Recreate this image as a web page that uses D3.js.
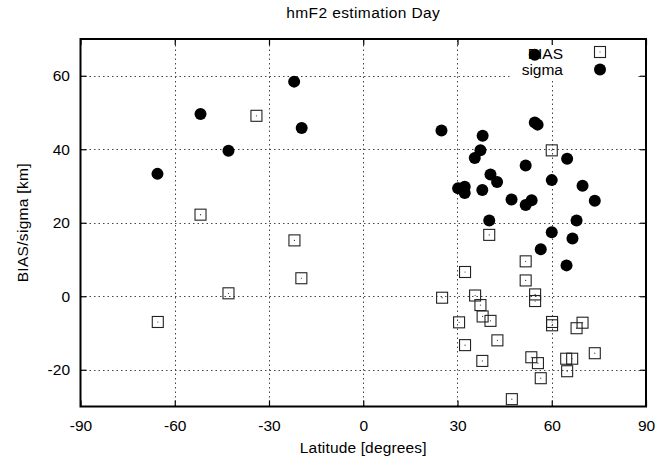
<!DOCTYPE html>
<html>
<head>
<meta charset="utf-8">
<script src="https://cdn.jsdelivr.net/npm/d3@7.9.0/dist/d3.min.js"></script>
<style>
  body { margin: 0; background: #fff; }
  svg text { font-family: "Liberation Sans", Arial, sans-serif; fill: #000; }
</style>
</head>
<body>
<div id="chart"></div>
<script>
// BIAS (open squares)
const biasLat = [-65.4, -51.8, -42.9, -34.0, -21.9, -19.7, 25.1, 30.5, 32.4, 32.4, 35.6, 37.3,
  37.9, 38.0, 40.1, 40.5, 42.7, 47.3, 51.7, 51.7, 53.5, 54.7, 54.7, 55.6, 56.5, 60.0, 60.1,
  60.1, 64.6, 64.9, 66.5, 67.9, 69.8, 73.7];
const biasVal = [-7.0, 22.2, 0.8, 49.1, 15.2, 4.9, -0.4, -7.1, 6.6, -13.3, 0.2, -2.4,
  -17.6, -5.5, 16.7, -6.7, -12.0, -28.0, 9.5, 4.3, -16.6, 0.5, -1.3, -18.2, -22.3, 39.7, -7.0,
  -7.9, -17.0, -20.4, -17.0, -8.7, -7.2, -15.5];

// sigma (filled circles)
const sigmaLat = [-65.5, -51.8, -42.9, -22.0, -19.6, 24.9, 30.2, 32.3, 32.3, 35.5, 37.3, 37.9,
  38.0, 40.1, 40.5, 42.6, 47.2, 51.7, 51.7, 53.6, 54.6, 54.6, 55.5, 56.5, 60.0, 60.0, 64.7,
  64.9, 66.6, 67.9, 69.8, 73.7];
const sigmaVal = [33.3, 49.6, 39.6, 58.4, 45.8, 45.1, 29.4, 29.8, 28.1, 37.6, 39.7, 28.9,
  43.7, 20.6, 33.1, 31.1, 26.3, 35.6, 24.8, 26.1, 65.7, 47.3, 46.7, 12.8, 31.6, 17.4, 8.4,
  37.4, 15.7, 20.6, 30.1, 26.0];

const xTicks = [-90, -60, -30, 0, 30, 60, 90];
const yTicks = [-20, 0, 20, 40, 60];

const width = 668, height = 461;
const margin = { top: 39, right: 22, bottom: 54.5, left: 80.5 };
const fontSize = 15.5;

const svg = d3.select("#chart").append("svg")
  .attr("width", width)
  .attr("height", height);

const x = d3.scaleLinear().domain([-90, 90]).range([margin.left, width - margin.right]);
const y = d3.scaleLinear().domain([-30, 70]).range([height - margin.bottom, margin.top]);

// grid
const grid = svg.append("g")
  .attr("stroke", "#444")
  .attr("stroke-width", 1)
  .attr("stroke-dasharray", "1.5,3");

grid.selectAll(".gx")
  .data(xTicks.slice(1, -1))
  .join("line")
  .attr("x1", d => Math.round(x(d)) + 0.5)
  .attr("x2", d => Math.round(x(d)) + 0.5)
  .attr("y1", y(-30))
  .attr("y2", y(70));

grid.selectAll(".gy")
  .data(yTicks)
  .join("line")
  .attr("y1", d => Math.round(y(d)) + 0.5)
  .attr("y2", d => Math.round(y(d)) + 0.5)
  .attr("x1", x(-90))
  .attr("x2", x(90));

// legend background hides the grid
svg.append("rect")
  .attr("x", 512)
  .attr("y", y(70) + 1)
  .attr("width", 125)
  .attr("height", 41)
  .attr("fill", "#fff");

// axes with inward ticks on all four sides
const tickLen = 6;
const fmt = d => String(d);
svg.append("g")
  .attr("transform", `translate(0,${y(-30)})`)
  .call(d3.axisBottom(x).tickValues(xTicks).tickSize(-tickLen).tickPadding(13.5).tickFormat(fmt))
  .call(g => g.select(".domain").remove())
  .call(g => g.selectAll("text").attr("font-size", fontSize));

svg.append("g")
  .attr("transform", `translate(0,${y(70)})`)
  .call(d3.axisTop(x).tickValues(xTicks).tickSize(-tickLen).tickFormat(""))
  .call(g => g.select(".domain").remove());

svg.append("g")
  .attr("transform", `translate(${x(-90)},0)`)
  .call(d3.axisLeft(y).tickValues(yTicks).tickSize(-tickLen).tickPadding(10.5).tickFormat(fmt))
  .call(g => g.select(".domain").remove())
  .call(g => g.selectAll("text").attr("font-size", fontSize));

svg.append("g")
  .attr("transform", `translate(${x(90)},0)`)
  .call(d3.axisRight(y).tickValues(yTicks).tickSize(-tickLen).tickFormat(""))
  .call(g => g.select(".domain").remove());

svg.selectAll(".tick line").attr("stroke", "#000").attr("stroke-width", 1.2);

// border
svg.append("rect")
  .attr("x", x(-90))
  .attr("y", y(70))
  .attr("width", x(90) - x(-90))
  .attr("height", y(-30) - y(70))
  .attr("fill", "none")
  .attr("stroke", "#000")
  .attr("stroke-width", 2);

// data
const bias = biasLat.map((d, i) => ({ lat: d, val: biasVal[i] }));
const sigma = sigmaLat.map((d, i) => ({ lat: d, val: sigmaVal[i] }));

const sq = 11;
const biasG = svg.append("g");
biasG.selectAll("rect")
  .data(bias)
  .join("rect")
  .attr("x", d => x(d.lat) - sq / 2)
  .attr("y", d => y(d.val) - sq / 2)
  .attr("width", sq)
  .attr("height", sq)
  .attr("fill", "none")
  .attr("stroke", "#222")
  .attr("stroke-width", 1.1);
biasG.selectAll("circle")
  .data(bias)
  .join("circle")
  .attr("cx", d => x(d.lat))
  .attr("cy", d => y(d.val))
  .attr("r", 0.6)
  .attr("fill", "#333");

svg.append("g").selectAll("circle")
  .data(sigma)
  .join("circle")
  .attr("cx", d => x(d.lat))
  .attr("cy", d => y(d.val))
  .attr("r", 6)
  .attr("fill", "#000");

// legend
const legend = svg.append("g");
legend.append("text")
  .attr("x", 563).attr("y", 59)
  .attr("text-anchor", "end")
  .attr("font-size", fontSize)
  .text("BIAS");
legend.append("text")
  .attr("x", 563).attr("y", 75)
  .attr("text-anchor", "end")
  .attr("font-size", fontSize)
  .text("sigma");
legend.append("rect")
  .attr("x", 600 - sq / 2).attr("y", 52 - sq / 2)
  .attr("width", sq).attr("height", sq)
  .attr("fill", "none").attr("stroke", "#222").attr("stroke-width", 1.1);
legend.append("circle")
  .attr("cx", 600).attr("cy", 52).attr("r", 0.6).attr("fill", "#333");
legend.append("circle")
  .attr("cx", 600).attr("cy", 69.5).attr("r", 6).attr("fill", "#000");

// title and axis labels
svg.append("text")
  .attr("x", (x(-90) + x(90)) / 2)
  .attr("y", 18)
  .attr("text-anchor", "middle")
  .attr("font-size", fontSize)
  .attr("letter-spacing", 0.4)
  .text("hmF2 estimation Day");

svg.append("text")
  .attr("x", (x(-90) + x(90)) / 2)
  .attr("y", 453)
  .attr("text-anchor", "middle")
  .attr("font-size", fontSize)
  .attr("letter-spacing", 0.15)
  .text("Latitude [degrees]");

svg.append("text")
  .attr("transform", `translate(28,${(y(-30) + y(70)) / 2}) rotate(-90)`)
  .attr("text-anchor", "middle")
  .attr("font-size", fontSize)
  .attr("letter-spacing", 0.3)
  .text("BIAS/sigma [km]");
</script>
</body>
</html>
